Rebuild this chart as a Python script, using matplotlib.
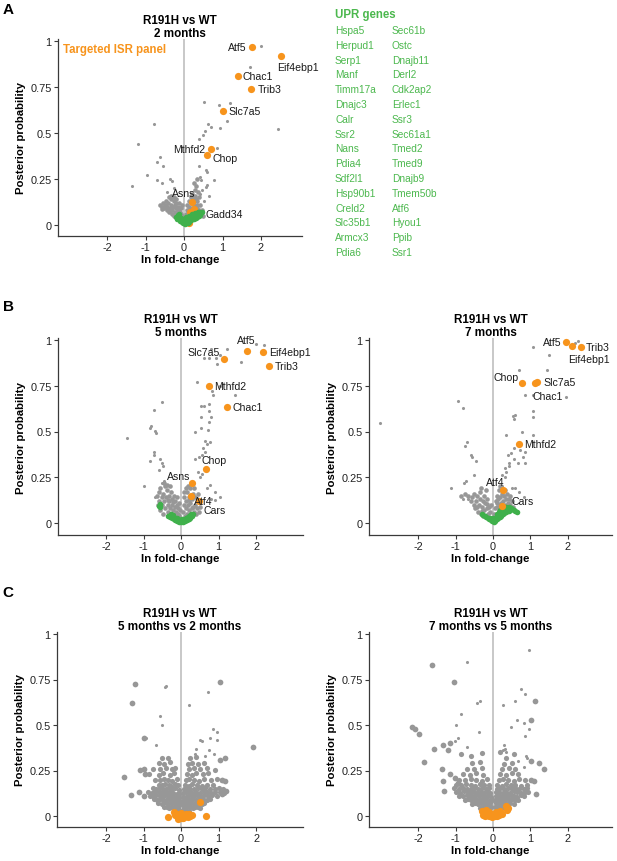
import matplotlib
matplotlib.use("Agg")
import matplotlib.pyplot as plt

plt.rcParams['font.family'] = ['Liberation Sans', 'DejaVu Sans']

GRAY = '#979797'
ORANGE = '#f7941d'
GREEN = '#3fb04b'
TXTGREEN = '#4cb84e'

xticks = [-2, -1, 0, 1, 2]
xticklabels = ['-2', '-1', '0', '1', '2']
yticks = [0, 0.25, 0.5, 0.75, 1]
yticklabels = ['0', '0.25', '0.5', '0.75', '1']

upr_col1 = ['Hspa5', 'Herpud1', 'Serp1', 'Manf', 'Timm17a', 'Dnajc3', 'Calr', 'Ssr2',
            'Nans', 'Pdia4', 'Sdf2l1', 'Hsp90b1', 'Creld2', 'Slc35b1', 'Armcx3', 'Pdia6']
upr_col2 = ['Sec61b', 'Ostc', 'Dnajb11', 'Derl2', 'Cdk2ap2', 'Erlec1', 'Ssr3', 'Sec61a1',
            'Tmed2', 'Tmed9', 'Dnajb9', 'Tmem50b', 'Atf6', 'Hyou1', 'Ppib', 'Ssr1']

# ---------------- Panel A: 2 months ----------------
A_title = 'R191H vs WT\n2 months'
A_gray = [(2.00, 0.971), (1.71, 0.857), (2.43, 0.52), (1.19, 0.663), (0.53, 0.667), (0.92, 0.65),
          (1.11, 0.564), (0.63, 0.55), (0.69, 0.53), (0.935, 0.527), (0.545, 0.513), (0.49, 0.49),
          (0.40, 0.47), (-0.78, 0.55), (-1.19, 0.44), (0.85, 0.42), (-0.62, 0.37), (-0.71, 0.34),
          (-0.54, 0.32), (0.40, 0.32), (0.57, 0.30), (0.60, 0.29), (-0.97, 0.27), (-0.69, 0.245),
          (-0.58, 0.23), (-0.36, 0.25), (-0.30, 0.24), (0.42, 0.26), (0.43, 0.245), (0.78, 0.245),
          (-1.34, 0.21), (0.60, 0.22), (0.56, 0.205), (0.64, 0.16), (0.46, 0.19), (0.42, 0.17),
          (-0.45, 0.18), (-0.25, 0.20), (0.52, 0.13)]
A_cloud = [(-0.62, 0.11), (-0.58, 0.10), (-0.55, 0.12), (-0.52, 0.09), (-0.50, 0.11), (-0.47, 0.13),
           (-0.45, 0.08), (-0.43, 0.10), (-0.41, 0.12), (-0.39, 0.07), (-0.37, 0.09), (-0.35, 0.14),
           (-0.33, 0.11), (-0.31, 0.06), (-0.30, 0.08), (-0.28, 0.10), (-0.27, 0.13), (-0.25, 0.05),
           (-0.24, 0.07), (-0.22, 0.09), (-0.21, 0.12), (-0.19, 0.04), (-0.18, 0.06), (-0.16, 0.08),
           (-0.15, 0.10), (-0.13, 0.05), (-0.12, 0.03), (-0.10, 0.07), (-0.09, 0.04), (-0.07, 0.06),
           (-0.05, 0.03), (-0.04, 0.05), (-0.02, 0.02), (-0.40, 0.15), (-0.33, 0.16), (-0.26, 0.15),
           (-0.20, 0.14), (-0.14, 0.12), (-0.08, 0.09), (-0.05, 0.11), (-0.56, 0.085), (-0.48, 0.105),
           (-0.36, 0.075), (-0.23, 0.11), (-0.11, 0.09),
           (0.02, 0.04), (0.05, 0.06), (0.07, 0.03), (0.09, 0.08), (0.11, 0.05), (0.13, 0.10),
           (0.15, 0.07), (0.17, 0.12), (0.19, 0.05), (0.21, 0.09), (0.23, 0.14), (0.25, 0.07),
           (0.27, 0.11), (0.29, 0.16), (0.31, 0.06), (0.33, 0.09), (0.35, 0.13), (0.37, 0.05),
           (0.39, 0.08), (0.41, 0.11), (0.44, 0.06), (0.47, 0.08), (0.50, 0.05), (0.28, 0.19),
           (0.31, 0.21), (0.26, 0.23), (0.33, 0.25), (0.22, 0.17), (0.18, 0.15), (0.36, 0.18),
           (0.40, 0.15), (0.12, 0.13), (0.08, 0.11), (0.30, 0.14), (0.34, 0.11), (0.24, 0.12)]
A_green = [(-0.22, 0.045), (-0.18, 0.035), (-0.14, 0.03), (-0.10, 0.02), (-0.06, 0.015), (-0.02, 0.01),
           (0.02, 0.008), (0.06, 0.01), (0.10, 0.012), (0.14, 0.018), (0.18, 0.025), (0.22, 0.03),
           (0.26, 0.035), (0.30, 0.04), (0.34, 0.045), (0.38, 0.05), (0.42, 0.055), (-0.16, 0.055),
           (-0.08, 0.04), (0.00, 0.03), (0.08, 0.03), (0.16, 0.04), (0.24, 0.05), (0.32, 0.06),
           (0.40, 0.07), (-0.12, 0.06), (0.04, 0.045), (0.12, 0.05), (0.20, 0.06), (0.28, 0.065),
           (0.36, 0.07), (0.46, 0.07)]
A_orange_names = ['Atf5', 'Eif4ebp1', 'Chac1', 'Trib3', 'Slc7a5', 'Mthfd2', 'Chop', 'Asns', 'Gadd34', '', '']
A_orange_x = [1.77, 2.52, 1.40, 1.75, 1.00, 0.70, 0.59, 0.22, 0.27, 0.16, 0.12]
A_orange_y = [0.97, 0.917, 0.81, 0.74, 0.62, 0.415, 0.379, 0.127, 0.087, 0.068, 0.01]

# ---------------- Panel B left: 5 months ----------------
B1_title = 'R191H vs WT\n5 months'
B1_gray = [(-1.45, 0.464), (-1.00, 0.204), (-0.50, 0.663), (-0.71, 0.619), (-0.81, 0.528), (-0.84, 0.52),
           (-0.70, 0.504), (-0.66, 0.49), (-0.72, 0.39), (-0.71, 0.37), (-0.84, 0.34), (-0.55, 0.35),
           (-0.51, 0.33), (-0.47, 0.31), (-0.58, 0.29), (-0.52, 0.22), (-0.46, 0.23), (-0.70, 0.14),
           (0.42, 0.772), (0.92, 0.90), (1.05, 0.92), (0.79, 0.95), (1.23, 0.95), (0.75, 0.90),
           (0.97, 0.87), (0.60, 0.90), (2.00, 0.98), (2.22, 0.97), (1.60, 0.88), (0.84, 0.70),
           (1.05, 0.75), (0.83, 0.72), (1.44, 0.70), (0.54, 0.64), (0.62, 0.64), (0.75, 0.65),
           (0.53, 0.58), (0.75, 0.61), (0.80, 0.58), (0.38, 0.50), (0.53, 0.52), (0.71, 0.51),
           (0.75, 0.55), (0.63, 0.45), (0.68, 0.43), (0.76, 0.44), (0.59, 0.41), (0.64, 0.39),
           (0.55, 0.37), (0.38, 0.35), (0.49, 0.36), (0.44, 0.28), (0.55, 0.27), (0.50, 0.25),
           (0.78, 0.21), (0.69, 0.19), (0.91, 0.17), (1.03, 0.14), (0.91, 0.125), (0.80, 0.13)]
B1_cloud = [(-0.65, 0.15), (-0.60, 0.17), (-0.58, 0.12), (-0.55, 0.19), (-0.52, 0.14), (-0.50, 0.10),
            (-0.48, 0.16), (-0.45, 0.12), (-0.43, 0.20), (-0.42, 0.08), (-0.40, 0.14), (-0.38, 0.18),
            (-0.36, 0.10), (-0.35, 0.06), (-0.33, 0.15), (-0.31, 0.12), (-0.30, 0.08), (-0.28, 0.17),
            (-0.27, 0.05), (-0.25, 0.10), (-0.24, 0.13), (-0.22, 0.07), (-0.20, 0.15), (-0.19, 0.04),
            (-0.17, 0.09), (-0.16, 0.12), (-0.14, 0.06), (-0.12, 0.10), (-0.11, 0.14), (-0.09, 0.05),
            (-0.08, 0.08), (-0.06, 0.11), (-0.05, 0.04), (-0.03, 0.07), (-0.46, 0.22), (-0.37, 0.21),
            (-0.29, 0.20), (-0.62, 0.10), (-0.56, 0.07), (-0.47, 0.05), (-0.34, 0.125), (-0.21, 0.115),
            (0.05, 0.06), (0.07, 0.10), (0.09, 0.14), (0.10, 0.04), (0.12, 0.08), (0.14, 0.12),
            (0.15, 0.17), (0.17, 0.05), (0.19, 0.10), (0.20, 0.14), (0.22, 0.07), (0.24, 0.19),
            (0.25, 0.11), (0.27, 0.04), (0.29, 0.08), (0.30, 0.13), (0.32, 0.16), (0.34, 0.06),
            (0.36, 0.10), (0.38, 0.14), (0.40, 0.05), (0.42, 0.08), (0.44, 0.12), (0.47, 0.06),
            (0.50, 0.09), (0.12, 0.19), (0.18, 0.20), (0.35, 0.19), (0.08, 0.17), (0.45, 0.16),
            (0.22, 0.125), (0.33, 0.085)]
B1_green = [(-0.60, 0.095), (-0.57, 0.105), (-0.55, 0.088), (-0.35, 0.04), (-0.30, 0.035), (-0.25, 0.028),
            (-0.20, 0.022), (-0.15, 0.015), (-0.10, 0.012), (-0.05, 0.008), (0.00, 0.006), (0.05, 0.008),
            (0.10, 0.012), (0.15, 0.017), (0.20, 0.024), (0.25, 0.03), (0.30, 0.038), (-0.28, 0.05),
            (-0.18, 0.035), (-0.08, 0.022), (0.02, 0.02), (0.12, 0.028), (0.22, 0.04), (0.32, 0.05),
            (-0.22, 0.045), (-0.12, 0.03), (-0.02, 0.014), (0.08, 0.018), (0.18, 0.035), (0.27, 0.048)]
B1_orange_names = ['Atf5', 'Eif4ebp1', 'Trib3', 'Slc7a5', 'Mthfd2', 'Chac1', 'Chop', 'Asns', 'Atf4', 'Cars']
B1_orange_x = [1.75, 2.19, 2.34, 1.15, 0.75, 1.23, 0.66, 0.30, 0.27, 0.47]
B1_orange_y = [0.938, 0.936, 0.858, 0.896, 0.75, 0.632, 0.295, 0.219, 0.148, 0.118]

# ---------------- Panel B right: 7 months ----------------
B2_title = 'R191H vs WT\n7 months'
B2_gray = [(-3.03, 0.548), (-1.13, 0.19), (-0.95, 0.667), (-0.81, 0.626), (-0.69, 0.443), (-0.75, 0.42),
           (-0.60, 0.37), (-0.55, 0.36), (-0.45, 0.34), (-0.51, 0.26), (-0.73, 0.23), (-0.77, 0.22),
           (-0.80, 0.13), (-0.68, 0.13),
           (1.06, 0.962), (1.51, 0.916), (1.46, 0.837), (0.71, 0.837), (1.08, 0.70), (1.96, 0.69),
           (2.29, 0.996), (2.20, 0.985), (0.54, 0.584), (0.60, 0.59), (0.57, 0.57), (1.08, 0.61),
           (1.08, 0.58), (0.35, 0.48), (0.79, 0.50), (1.08, 0.48), (0.57, 0.41), (0.73, 0.40),
           (0.86, 0.39), (0.48, 0.38), (0.40, 0.37), (0.81, 0.36), (0.56, 0.35), (0.44, 0.33),
           (0.33, 0.30), (0.42, 0.31), (0.67, 0.33), (0.86, 0.33), (0.23, 0.26), (0.32, 0.25),
           (0.35, 0.28), (0.50, 0.19), (0.60, 0.19), (0.69, 0.17), (0.82, 0.14), (0.23, 0.20)]
B2_cloud = [(-0.60, 0.12), (-0.55, 0.14), (-0.52, 0.10), (-0.50, 0.16), (-0.47, 0.08), (-0.45, 0.12),
            (-0.42, 0.15), (-0.40, 0.06), (-0.38, 0.10), (-0.36, 0.13), (-0.34, 0.17), (-0.32, 0.05),
            (-0.30, 0.09), (-0.28, 0.12), (-0.26, 0.04), (-0.25, 0.15), (-0.23, 0.07), (-0.21, 0.11),
            (-0.19, 0.04), (-0.17, 0.08), (-0.15, 0.13), (-0.13, 0.05), (-0.11, 0.09), (-0.09, 0.03),
            (-0.07, 0.06), (-0.05, 0.10), (-0.04, 0.03), (-0.33, 0.19), (-0.20, 0.18), (-0.66, 0.15),
            (-0.85, 0.15), (-0.75, 0.16), (-0.43, 0.09), (-0.29, 0.065), (-0.16, 0.105),
            (0.06, 0.08), (0.08, 0.12), (0.10, 0.15), (0.12, 0.09), (0.14, 0.13), (0.16, 0.18),
            (0.18, 0.10), (0.20, 0.14), (0.22, 0.11), (0.24, 0.16), (0.26, 0.08), (0.28, 0.12),
            (0.30, 0.15), (0.32, 0.10), (0.34, 0.13), (0.36, 0.09), (0.38, 0.16), (0.40, 0.11),
            (0.43, 0.13), (0.46, 0.10), (0.50, 0.12), (0.53, 0.09), (0.20, 0.20), (0.33, 0.18),
            (0.10, 0.11), (0.04, 0.05), (0.15, 0.07), (0.45, 0.15)]
B2_green = [(-0.30, 0.05), (-0.26, 0.045), (-0.22, 0.04), (-0.18, 0.035), (-0.14, 0.025), (-0.10, 0.02),
            (-0.06, 0.015), (-0.02, 0.01), (0.02, 0.008), (0.06, 0.012), (0.10, 0.02), (0.14, 0.03),
            (0.18, 0.035), (0.22, 0.04), (0.26, 0.05), (0.30, 0.055), (0.34, 0.06), (0.38, 0.065),
            (0.42, 0.065), (0.46, 0.07), (0.50, 0.075), (0.55, 0.07), (0.60, 0.065), (0.65, 0.06),
            (0.12, 0.05), (0.16, 0.06), (0.20, 0.07), (0.24, 0.075), (0.28, 0.08), (0.32, 0.085),
            (0.36, 0.085), (0.40, 0.08), (0.44, 0.085), (0.48, 0.08), (0.05, 0.03), (0.00, 0.025),
            (-0.08, 0.03)]
B2_orange_names = ['Atf5', 'Eif4ebp1', 'Trib3', 'Chop', '', 'Slc7a5', 'Mthfd2', 'Atf4', 'Cars']
B2_orange_x = [1.97, 2.12, 2.35, 0.79, 1.12, 1.17, 0.70, 0.28, 0.23]
B2_orange_y = [0.987, 0.965, 0.962, 0.764, 0.765, 0.772, 0.43, 0.183, 0.092]
B2_plain_names = ['Chac1']
B2_plain_x = [0.86]
B2_plain_y = [0.70]

# ---------------- Panel C left: 5 vs 2 months ----------------
C1_title = 'R191H vs WT\n5 months vs 2 months'
C1_big = [(-1.23, 0.725), (-1.30, 0.62), (1.04, 0.735), (-1.00, 0.427), (-1.51, 0.212), (-1.33, 0.115),
          (1.93, 0.377), (1.04, 0.306), (1.17, 0.32), (-1.09, 0.254), (-0.96, 0.23), (-0.99, 0.26),
          (-1.13, 0.13), (-1.00, 0.11), (1.08, 0.20), (1.17, 0.19), (1.21, 0.14), (1.08, 0.12)]
C1_gray = [(-0.41, 0.716), (-0.44, 0.71), (-0.56, 0.55), (-0.52, 0.50), (-0.93, 0.43), (-0.68, 0.39),
           (0.21, 0.61), (0.71, 0.68), (0.85, 0.48), (0.97, 0.46), (0.76, 0.43), (0.96, 0.42),
           (0.55, 0.41), (0.50, 0.42), (0.41, 0.37), (0.36, 0.34), (0.88, 0.34), (0.64, 0.33),
           (0.75, 0.36)]
C1_cloud = [(-0.45, 0.048), (-0.38, 0.052), (-0.31, 0.046), (-0.23, 0.05), (-0.15, 0.047), (-0.08, 0.045),
            (0.08, 0.046), (0.15, 0.05), (0.23, 0.048), (0.31, 0.045), (0.38, 0.05), (0.45, 0.047),
            (0.50, 0.044), (-0.10, 0.03), (0.0, 0.028), (0.1, 0.032), (-0.2, 0.034), (0.2, 0.03),
            (-0.62, 0.072), (-0.51, 0.068), (-0.43, 0.075), (-0.35, 0.066), (-0.27, 0.071), (-0.20, 0.069),
            (-0.12, 0.064), (-0.05, 0.06), (0.06, 0.062), (0.12, 0.07), (0.20, 0.066), (0.27, 0.073),
            (0.35, 0.068), (0.43, 0.071), (0.55, 0.067), (0.62, 0.074),
            (-0.72, 0.092), (-0.63, 0.088), (-0.55, 0.095), (-0.47, 0.09), (-0.40, 0.086), (-0.33, 0.094),
            (-0.25, 0.089), (-0.18, 0.085), (-0.10, 0.08), (-0.04, 0.078), (0.05, 0.08), (0.10, 0.087),
            (0.18, 0.092), (0.25, 0.088), (0.33, 0.095), (0.40, 0.09), (0.48, 0.086), (0.58, 0.093),
            (0.68, 0.089), (0.76, 0.094),
            (-0.82, 0.112), (-0.74, 0.108), (-0.66, 0.115), (-0.57, 0.11), (-0.50, 0.106), (-0.43, 0.113),
            (-0.36, 0.109), (-0.28, 0.114), (-0.20, 0.105), (-0.13, 0.10), (-0.06, 0.098), (0.05, 0.102),
            (0.12, 0.107), (0.20, 0.113), (0.28, 0.108), (0.36, 0.115), (0.44, 0.11), (0.52, 0.106),
            (0.62, 0.113), (0.72, 0.109), (0.83, 0.115), (0.96, 0.11),
            (-0.87, 0.132), (-0.78, 0.128), (-0.70, 0.135), (-0.60, 0.13), (-0.52, 0.126), (-0.45, 0.134),
            (-0.37, 0.129), (-0.30, 0.133), (-0.22, 0.127), (-0.12, 0.122), (-0.05, 0.12), (0.06, 0.124),
            (0.14, 0.13), (0.22, 0.134), (0.30, 0.128), (0.40, 0.133), (0.50, 0.129), (0.60, 0.135),
            (0.70, 0.13), (0.80, 0.126), (0.90, 0.134), (1.05, 0.13), (1.15, 0.127),
            (-0.76, 0.152), (-0.66, 0.148), (-0.56, 0.155), (-0.48, 0.15), (-0.40, 0.146), (-0.32, 0.154),
            (-0.25, 0.149), (-0.15, 0.153), (-0.06, 0.145), (0.08, 0.148), (0.16, 0.154), (0.25, 0.15),
            (0.35, 0.146), (0.45, 0.153), (0.55, 0.149), (0.65, 0.155), (0.78, 0.15), (0.90, 0.147),
            (1.00, 0.153), (1.12, 0.149),
            (-0.60, 0.172), (-0.50, 0.168), (-0.42, 0.175), (-0.33, 0.17), (-0.26, 0.166), (-0.17, 0.174),
            (-0.08, 0.169), (0.10, 0.172), (0.20, 0.167), (0.30, 0.175), (0.42, 0.17), (0.55, 0.166),
            (0.68, 0.173), (0.85, 0.169),
            (-0.70, 0.20), (-0.56, 0.196), (-0.45, 0.204), (-0.35, 0.199), (-0.25, 0.195), (-0.12, 0.203),
            (0.12, 0.198), (0.22, 0.204), (0.35, 0.20), (0.48, 0.195), (0.62, 0.202), (0.80, 0.198),
            (0.95, 0.205), (1.10, 0.20),
            (-0.86, 0.23), (-0.60, 0.226), (-0.48, 0.234), (-0.30, 0.228), (-0.20, 0.235), (0.15, 0.231),
            (0.28, 0.226), (0.40, 0.234), (0.58, 0.229), (0.72, 0.236),
            (-0.75, 0.26), (-0.55, 0.256), (-0.40, 0.264), (-0.25, 0.258), (-0.15, 0.262), (0.20, 0.259),
            (0.35, 0.265), (0.50, 0.257), (0.68, 0.261), (0.90, 0.255),
            (-0.60, 0.29), (-0.45, 0.286), (-0.30, 0.294), (0.18, 0.288), (0.30, 0.292), (0.45, 0.285),
            (0.60, 0.291), (-0.50, 0.32), (-0.35, 0.316), (0.25, 0.318), (0.40, 0.323)]
C1_orange_x = [0.50, -0.36, 0.66, -0.20, -0.12, -0.05, 0.02, 0.08, 0.15, 0.22, 0.30, -0.15, 0.00, 0.12, 0.25, -0.08, 0.05, 0.18]
C1_orange_y = [0.079, -0.007, 0.002, 0.02, 0.01, 0.0, -0.01, -0.005, 0.0, 0.01, 0.005, 0.005, 0.015, 0.012, 0.0, -0.015, -0.012, -0.008]

# ---------------- Panel C right: 7 vs 5 months ----------------
C2_title = 'R191H vs WT\n7 months vs 5 months'
C2_big = [(-1.64, 0.831), (-1.05, 0.735), (-2.18, 0.487), (-2.09, 0.478), (-1.99, 0.45), (-1.84, 0.298),
          (-1.58, 0.37), (-1.34, 0.39), (-1.14, 0.40), (-1.20, 0.36), (-1.38, 0.26), (-1.16, 0.23),
          (-1.34, 0.19), (-1.31, 0.14), (-1.02, 0.21), (-0.93, 0.18), (1.13, 0.633), (1.01, 0.53),
          (1.02, 0.30), (1.22, 0.29), (1.37, 0.26), (1.01, 0.20), (1.09, 0.19), (1.16, 0.12)]
C2_gray = [(-0.71, 0.848), (0.97, 0.914), (-0.34, 0.63), (-0.43, 0.62), (-0.85, 0.56), (-0.38, 0.46),
           (0.74, 0.70), (0.87, 0.67), (0.60, 0.63), (0.28, 0.61), (0.65, 0.53), (0.84, 0.51),
           (0.96, 0.48), (0.86, 0.44), (0.47, 0.49), (-0.98, 0.50), (-0.93, 0.43), (-1.02, 0.41),
           (-0.71, 0.38), (0.30, 0.39), (0.33, 0.37), (0.27, 0.36), (0.36, 0.35), (0.89, 0.33),
           (0.92, 0.32), (0.83, 0.27), (0.66, 0.30)]
C2_cloud = [(-0.35, 0.045), (-0.28, 0.05), (-0.20, 0.047), (-0.12, 0.052), (-0.05, 0.048), (0.06, 0.05),
            (0.13, 0.046), (0.20, 0.052), (0.28, 0.048), (0.35, 0.045),
            (-0.55, 0.068), (-0.47, 0.072), (-0.40, 0.066), (-0.32, 0.074), (-0.25, 0.07), (-0.17, 0.065),
            (-0.08, 0.071), (0.07, 0.069), (0.14, 0.074), (0.22, 0.067), (0.30, 0.072), (0.38, 0.068),
            (0.46, 0.073), (0.55, 0.066),
            (-0.75, 0.09), (-0.66, 0.094), (-0.58, 0.088), (-0.50, 0.095), (-0.42, 0.09), (-0.34, 0.086),
            (-0.26, 0.093), (-0.18, 0.089), (-0.10, 0.084), (-0.04, 0.09), (0.06, 0.088), (0.12, 0.094),
            (0.20, 0.09), (0.28, 0.086), (0.36, 0.093), (0.44, 0.089), (0.52, 0.095), (0.60, 0.09),
            (0.68, 0.086),
            (-0.90, 0.112), (-0.80, 0.108), (-0.70, 0.115), (-0.62, 0.11), (-0.54, 0.106), (-0.46, 0.113),
            (-0.38, 0.109), (-0.30, 0.114), (-0.22, 0.105), (-0.14, 0.11), (-0.06, 0.106), (0.07, 0.11),
            (0.15, 0.115), (0.23, 0.107), (0.31, 0.112), (0.39, 0.108), (0.47, 0.114), (0.56, 0.11),
            (0.65, 0.106), (0.74, 0.113), (0.82, 0.109),
            (-1.00, 0.132), (-0.88, 0.128), (-0.78, 0.135), (-0.68, 0.13), (-0.60, 0.126), (-0.50, 0.134),
            (-0.42, 0.129), (-0.33, 0.133), (-0.24, 0.127), (-0.15, 0.131), (-0.07, 0.126), (0.08, 0.13),
            (0.17, 0.134), (0.26, 0.128), (0.35, 0.133), (0.45, 0.129), (0.55, 0.135), (0.65, 0.13),
            (0.75, 0.126), (0.85, 0.134), (0.95, 0.13),
            (-1.05, 0.152), (-0.92, 0.148), (-0.80, 0.155), (-0.70, 0.15), (-0.60, 0.146), (-0.50, 0.154),
            (-0.40, 0.149), (-0.30, 0.153), (-0.20, 0.147), (-0.10, 0.152), (0.10, 0.15), (0.20, 0.155),
            (0.30, 0.149), (0.40, 0.153), (0.50, 0.147), (0.60, 0.154), (0.70, 0.15), (0.82, 0.146),
            (0.92, 0.153),
            (-0.98, 0.172), (-0.85, 0.168), (-0.72, 0.175), (-0.60, 0.17), (-0.48, 0.166), (-0.36, 0.174),
            (-0.25, 0.169), (-0.12, 0.173), (0.12, 0.17), (0.24, 0.166), (0.36, 0.174), (0.48, 0.169),
            (0.60, 0.173), (0.75, 0.167), (0.90, 0.172),
            (-0.90, 0.20), (-0.75, 0.196), (-0.60, 0.204), (-0.45, 0.199), (-0.30, 0.195), (-0.15, 0.203),
            (0.15, 0.198), (0.28, 0.204), (0.40, 0.20), (0.55, 0.195), (0.70, 0.202), (0.85, 0.198),
            (-0.80, 0.23), (-0.62, 0.226), (-0.45, 0.234), (-0.28, 0.228), (0.20, 0.231), (0.35, 0.226),
            (0.50, 0.234), (0.68, 0.229),
            (-0.70, 0.26), (-0.50, 0.256), (-0.30, 0.264), (0.25, 0.259), (0.42, 0.265), (0.60, 0.257),
            (-0.55, 0.29), (-0.35, 0.294), (0.30, 0.288), (0.50, 0.292),
            (-0.60, 0.33), (-0.30, 0.345), (0.20, 0.35), (0.35, 0.32), (0.55, 0.34), (-0.85, 0.34)]
C2_orange_x = [-0.30, -0.25, -0.20, -0.15, -0.10, -0.05, 0.00, 0.05, 0.10, 0.15, 0.20, 0.25, -0.22, -0.12, -0.02, 0.08, 0.18, 0.35, 0.40, 0.38, -0.28, 0.12]
C2_orange_y = [0.03, 0.015, 0.035, 0.01, 0.02, 0.005, 0.012, 0.0, 0.015, 0.005, 0.02, 0.01, 0.0, 0.0, -0.005, 0.02, 0.03, 0.055, 0.045, 0.035, 0.005, 0.0]

# label offsets (pixels) and alignment: name -> (dx, dy, ha)
A_lab = {'Atf5': (-6, 0, 'right'), 'Eif4ebp1': (-4, -11, 'left'), 'Chac1': (5, 0, 'left'),
         'Trib3': (6, 0, 'left'), 'Slc7a5': (6, 0, 'left'), 'Mthfd2': (-6, 0, 'right'),
         'Chop': (6, -3, 'left'), 'Asns': (-9, 9, 'center'), 'Gadd34': (11, -5, 'left')}
B1_lab = {'Atf5': (0, 11, 'center'), 'Eif4ebp1': (6, 0, 'left'), 'Trib3': (6, 0, 'left'),
          'Slc7a5': (-4, 7, 'right'), 'Mthfd2': (5, 0, 'left'), 'Chac1': (5, 0, 'left'),
          'Chop': (8, 9, 'center'), 'Asns': (-2, 7, 'right'), 'Atf4': (3, -5, 'left'),
          'Cars': (5, -9, 'left')}
B2_lab = {'Atf5': (-5, 0, 'right'), 'Eif4ebp1': (17, -13, 'center'), 'Trib3': (5, 0, 'left'),
          'Chop': (-4, 6, 'right'), 'Slc7a5': (7, 0, 'left'), 'Mthfd2': (5, 0, 'left'),
          'Atf4': (1, 8, 'right'), 'Cars': (10, 5, 'left'), 'Chac1': (7, -1, 'left')}

W, H = 617, 862
fig = plt.figure(figsize=(W / 100, H / 100), dpi=100)


def make_ax(l, r, t, b, x0px, ppu_x, y0px, ppu_y):
    ax = fig.add_axes([l / W, 1 - b / H, (r - l) / W, (b - t) / H])
    ax.set_xlim((l - x0px) / ppu_x, (r - x0px) / ppu_x)
    ax.set_ylim((y0px - b) / ppu_y, (y0px - t) / ppu_y)
    for s in ['top', 'right']:
        ax.spines[s].set_visible(False)
    for s in ['left', 'bottom']:
        ax.spines[s].set_color('#3a3a3a')
        ax.spines[s].set_linewidth(0.9)
    ax.set_xticks(xticks)
    ax.set_xticklabels(xticklabels)
    ax.set_yticks(yticks)
    ax.set_yticklabels(yticklabels)
    ax.tick_params(direction='out', length=3, width=0.8, color='#3a3a3a',
                   labelsize=7.9, labelcolor='#222222', pad=1.5)
    ax.set_xlabel('ln fold-change', fontsize=8.2, fontweight='bold', labelpad=1.5)
    ax.set_ylabel('Posterior probability', fontsize=8.2, fontweight='bold', labelpad=3)
    ax.axvline(0, color='#c4c4c4', lw=1.3, zorder=1)
    ax.patch.set_alpha(0)
    return ax


def xs(pts):
    return [p[0] for p in pts]


def ys(pts):
    return [p[1] for p in pts]


def labels(ax, names, xv, yv, lab):
    for n, x, y in zip(names, xv, yv):
        if n and n in lab:
            dx, dy, ha = lab[n]
            ax.annotate(n, (x, y), xytext=(dx, dy), textcoords='offset pixels',
                        ha=ha, va='center', fontsize=7.6, color='#1a1a1a', zorder=6)


def title(ax, txt):
    ax.text(0.5, 1.0, txt, transform=ax.transAxes, ha='center', va='bottom',
            fontsize=8.4, fontweight='bold', linespacing=1.1)


SM, CL, CLC, BIG, OR, GR = 5, 11, 14, 17, 27, 16

# Panel A
axA = make_ax(58, 302, 40, 237, 184, 38.5, 226, 184)
axA.scatter(xs(A_gray), ys(A_gray), s=SM, c=GRAY, lw=0, zorder=2)
axA.scatter(xs(A_cloud), ys(A_cloud), s=CL, c=GRAY, lw=0, zorder=2)
axA.scatter(A_orange_x, A_orange_y, s=OR, c=ORANGE, lw=0, zorder=3)
axA.scatter(xs(A_green), ys(A_green), s=GR, c=GREEN, lw=0, zorder=4)
labels(axA, A_orange_names, A_orange_x, A_orange_y, A_lab)
title(axA, A_title)
axA.text(0.02, 0.95, 'Targeted ISR panel', transform=axA.transAxes, ha='left', va='center',
         fontsize=8.3, fontweight='bold', color=ORANGE)

# Panel B left
axB1 = make_ax(58, 303, 339, 536, 181, 37.5, 524, 183)
axB1.scatter(xs(B1_gray), ys(B1_gray), s=SM, c=GRAY, lw=0, zorder=2)
axB1.scatter(xs(B1_cloud), ys(B1_cloud), s=CL, c=GRAY, lw=0, zorder=2)
axB1.scatter(xs(B1_green), ys(B1_green), s=GR, c=GREEN, lw=0, zorder=3)
axB1.scatter(B1_orange_x, B1_orange_y, s=OR, c=ORANGE, lw=0, zorder=4)
labels(axB1, B1_orange_names, B1_orange_x, B1_orange_y, B1_lab)
title(axB1, B1_title)

# Panel B right
axB2 = make_ax(369, 612, 339, 536, 493, 37.3, 524, 183)
axB2.scatter(xs(B2_gray) + B2_plain_x, ys(B2_gray) + B2_plain_y, s=SM, c=GRAY, lw=0, zorder=2)
axB2.scatter(xs(B2_cloud), ys(B2_cloud), s=CL, c=GRAY, lw=0, zorder=2)
axB2.scatter(xs(B2_green), ys(B2_green), s=GR, c=GREEN, lw=0, zorder=3)
axB2.scatter(B2_orange_x, B2_orange_y, s=OR, c=ORANGE, lw=0, zorder=4)
labels(axB2, B2_orange_names, B2_orange_x, B2_orange_y, B2_lab)
labels(axB2, B2_plain_names, B2_plain_x, B2_plain_y, B2_lab)
title(axB2, B2_title)

# Panel C left
axC1 = make_ax(57, 303, 633, 828, 181, 37.5, 817, 182)
axC1.scatter(xs(C1_gray), ys(C1_gray), s=SM, c=GRAY, lw=0, zorder=2)
axC1.scatter(xs(C1_cloud), ys(C1_cloud), s=CLC, c=GRAY, lw=0, zorder=2)
axC1.scatter(xs(C1_big), ys(C1_big), s=BIG, c=GRAY, lw=0, zorder=2)
axC1.scatter(C1_orange_x, C1_orange_y, s=OR, c=ORANGE, lw=0, zorder=4)
title(axC1, C1_title)

# Panel C right
axC2 = make_ax(369, 612, 633, 828, 493, 37.3, 817, 182)
axC2.scatter(xs(C2_gray), ys(C2_gray), s=SM, c=GRAY, lw=0, zorder=2)
axC2.scatter(xs(C2_cloud), ys(C2_cloud), s=CLC, c=GRAY, lw=0, zorder=2)
axC2.scatter(xs(C2_big), ys(C2_big), s=BIG, c=GRAY, lw=0, zorder=2)
axC2.scatter(C2_orange_x, C2_orange_y, s=OR, c=ORANGE, lw=0, zorder=4)
title(axC2, C2_title)

# Panel letters
for letter, px, py in [('A', 8, 10), ('B', 8, 307), ('C', 8, 593)]:
    fig.text(px / W, 1 - py / H, letter, ha='center', va='center', fontsize=11, fontweight='bold')

# UPR gene list
fig.text(335 / W, 1 - 15 / H, 'UPR genes', ha='left', va='center', fontsize=8.3,
         fontweight='bold', color=TXTGREEN)
for i, (g1, g2) in enumerate(zip(upr_col1, upr_col2)):
    yy = 1 - (31 + i * 14.8) / H
    fig.text(335 / W, yy, g1, ha='left', va='center', fontsize=7.3, color=TXTGREEN)
    fig.text(392 / W, yy, g2, ha='left', va='center', fontsize=7.3, color=TXTGREEN)

fig.savefig('out.png', dpi=100)
